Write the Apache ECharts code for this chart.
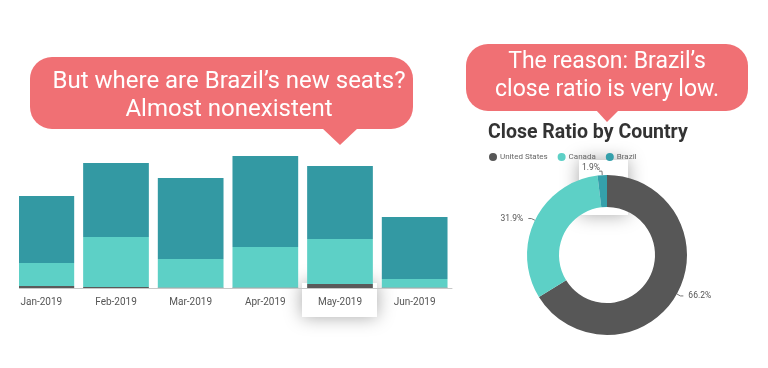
<!DOCTYPE html>
<html><head><meta charset="utf-8">
<script src="https://cdn.jsdelivr.net/npm/echarts@6/dist/echarts.min.js"></script>
<style>html,body{margin:0;padding:0;background:#fff}#c{width:768px;height:368px}</style>
</head><body><div id="c"></div>
<script>
var months = ['Jan-2019','Feb-2019','Mar-2019','Apr-2019','May-2019','Jun-2019'];
var brazilSeats = [2, 1, 0.5, 0.5, 4, 0.5];
var canadaSeats = [23, 50, 28.5, 40.5, 45, 8.5];
var usSeats = [67, 74, 81, 91, 73, 62];
var countries = ['United States','Canada','Brazil'];
var closeRatio = [66.2, 31.9, 1.9];
var countryColors = ['#575757','#5dd0c6','#35a0ab'];

var chart = echarts.init(document.getElementById('c'));
var pink = '#f07074';
chart.setOption({
  animation: false,
  grid: {left: 4, right: 316, top: 148, bottom: 80, containLabel: false},
  xAxis: {
    type: 'category', data: months, z: 5,
    axisLine: {lineStyle: {color: '#c8c8c8', width: 1}},
    axisTick: {show: false},
    axisLabel: {color: '#555', fontSize: 10, fontFamily: 'Roboto', margin: 9}
  },
  yAxis: {type: 'value', min: 0, max: 140, show: false, splitLine: {show: false}},
  title: {text: 'Close Ratio by Country', left: 483, top: 118,
    textStyle: {fontFamily: 'Roboto', fontWeight: 'bold', fontSize: 19.5, color: '#333'}},
  legend: {data: countries, left: 484, top: 148, icon: 'circle', itemWidth: 8, itemHeight: 8, itemGap: 10,
    textStyle: {fontSize: 8, color: '#666', fontFamily: 'Roboto', padding: [0,0,0,-2]}},
  graphic: [
    {type: 'rect', z: 1, shape: {x: 302, y: 283, width: 75, height: 34},
      style: {fill: '#fff', shadowBlur: 18, shadowColor: 'rgba(0,0,0,0.35)'}},
    {type: 'rect', z: 1, shape: {x: 579, y: 160, width: 49, height: 55},
      style: {fill: '#fff', shadowBlur: 18, shadowColor: 'rgba(0,0,0,0.35)'}},
    {type: 'rect', z: 8, shape: {x: 0, y: 140, width: 19, height: 155}, style: {fill: '#fff'}},
    {type: 'rect', z: 10, shape: {x: 30, y: 57, width: 383, height: 72, r: 22}, style: {fill: pink}},
    {type: 'polygon', z: 10, shape: {points: [[322,128],[358,128],[340,145]]}, style: {fill: pink}},
    {type: 'text', z: 11, x: 229, y: 82, style: {text: 'But where are Brazil\u2019s new seats?', fill: '#fff', fontSize: 24, fontFamily: 'Roboto', align: 'center', verticalAlign: 'middle'}},
    {type: 'text', z: 11, x: 229, y: 110, style: {text: 'Almost nonexistent', fill: '#fff', fontSize: 24, fontFamily: 'Roboto', align: 'center', verticalAlign: 'middle'}},
    {type: 'rect', z: 10, shape: {x: 466, y: 44, width: 282, height: 67, r: 22}, style: {fill: pink}},
    {type: 'polygon', z: 10, shape: {points: [[596,110],[619,110],[607,122]]}, style: {fill: pink}},
    {type: 'text', z: 11, x: 607, y: 62, style: {text: 'The reason: Brazil\u2019s', fill: '#fff', fontSize: 23, fontFamily: 'Roboto', align: 'center', verticalAlign: 'middle'}},
    {type: 'text', z: 11, x: 607, y: 90, style: {text: 'close ratio is very low.', fill: '#fff', fontSize: 23, fontFamily: 'Roboto', align: 'center', verticalAlign: 'middle'}}
  ],
  series: [
    {name: 'Brazil (seats)', type: 'bar', stack: 's', data: brazilSeats, barCategoryGap: '12%', itemStyle: {color: '#5a5a5a'}},
    {name: 'Canada (seats)', type: 'bar', stack: 's', data: canadaSeats, itemStyle: {color: '#5dd0c6'}},
    {name: 'United States (seats)', type: 'bar', stack: 's', data: usSeats, itemStyle: {color: '#3399a3'}},
    {name: 'Close Ratio', type: 'pie', center: [607, 255], radius: [48, 80], startAngle: 90, clockwise: true,
      data: countries.map(function(n, i){ return {name: n, value: closeRatio[i], itemStyle: {color: countryColors[i]}}; }),
      label: {show: true, position: 'outside', formatter: function(p){ return p.value.toFixed(1) + '%'; }, fontSize: 8.5, color: '#555', fontFamily: 'Roboto'},
      labelLine: {show: true, length: 4, length2: 3, lineStyle: {color: '#777', width: 1}},
      labelLayout: function(p){ return p.dataIndex === 2 ? {dx: 6, dy: -3} : {}; }
    }
  ]
});
</script></body></html>
